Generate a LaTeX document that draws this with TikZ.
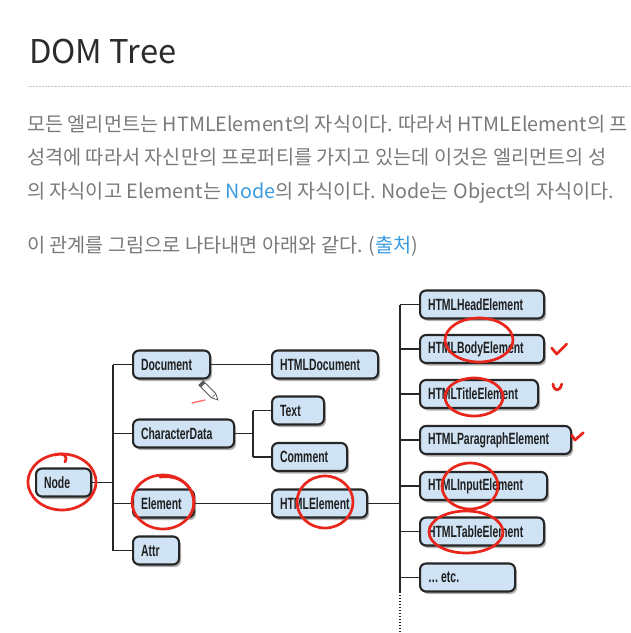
\documentclass[tikz,border=0pt]{standalone}
\usepackage{fontspec}
\setmainfont{Noto Sans CJK KR}
\newfontfamily\boxfont[FakeStretch=0.64]{Liberation Sans}
\usetikzlibrary{shadows}
\definecolor{txtgray}{HTML}{7A7A7A}
\definecolor{titlecol}{HTML}{2B2B2B}
\definecolor{linkblue}{HTML}{3A9BE0}
\definecolor{boxfill}{HTML}{CFE3F4}
\definecolor{boxline}{HTML}{262626}
\definecolor{annot}{HTML}{E8261C}
\begin{document}
\begin{tikzpicture}[x=1pt,y=-1pt,
  bx/.style={draw=boxline, line width=2.1pt, fill=boxfill, rounded corners=6pt,
    inner xsep=8pt, inner ysep=0pt, minimum height=28pt, text width=#1, align=left,
    anchor=west, font=\boxfont\bfseries\fontsize{16.3}{17}\selectfont, text=black!88,
    drop shadow={shadow xshift=2pt, shadow yshift=-2.5pt, opacity=0.3, fill=black}},
  wire/.style={draw=boxline, line width=1.7pt},
  para/.style={anchor=base west, inner sep=0pt, text=txtgray, font=\fontsize{19.7}{24}\selectfont},
  redmark/.style={draw=annot, line width=2.7pt, line cap=round, line join=round}]

\useasboundingbox (0,0) rectangle (631,633);
\fill[white] (0,0) rectangle (631,633);
\clip (0,0) rectangle (631,633);

% ---------- header text ----------
\node[anchor=base west, inner sep=0pt, text=titlecol, font=\fontsize{32.7}{36}\selectfont] (title) at (29,63) {DOM Tree};
\coordinate (ruleL) at (28,86);
\coordinate (ruleR) at (640,86);
\draw[gray!45, line width=0.9pt, dash pattern=on 0.9pt off 0.6pt] (ruleL) -- (ruleR);

\node[para] (p1) at (27,131) {모든 엘리먼트는 HTMLElement의 자식이다. 따라서 HTMLElement의 프};
\node[para] (p2) at (27,164) {성격에 따라서 자신만의 프로퍼티를 가지고 있는데 이것은 엘리먼트의 성};
\node[para] (p3) at (27,198) {의 자식이고 Element는 \textcolor{linkblue}{Node}의 자식이다. Node는 Object의 자식이다.};
\node[para] (p4) at (27,252) {이 관계를 그림으로 나타내면 아래와 같다. (\textcolor{linkblue}{출처})};

% ---------- boxes ----------
\node[bx=39pt] (node) at (35,482.5) {Node};
\node[bx=61pt] (doc) at (132,364.5) {Document};
\node[bx=85pt] (chardata) at (132,433.5) {CharacterData};
\node[bx=45pt] (element) at (132,503.5) {Element};
\node[bx=30pt] (attr) at (132,550.5) {Attr};
\node[bx=90pt] (htmldoc) at (271,364.5) {HTMLDocument};
\node[bx=36pt] (text) at (271,410.5) {Text};
\node[bx=59pt] (comment) at (271,457) {Comment};
\node[bx=79pt] (htmlel) at (271,503.5) {HTMLElement};
\node[bx=108pt] (head) at (419,304.5) {HTMLHeadElement};
\node[bx=108pt] (body) at (419,349) {HTMLBodyElement};
\node[bx=102pt] (titleel) at (419,394) {HTMLTitleElement};
\node[bx=135pt] (parael) at (419,440) {HTMLParagraphElement};
\node[bx=111pt] (input) at (419,486) {HTMLInputElement};
\node[bx=108pt] (table) at (419,531.5) {HTMLTableElement};
\node[bx=79pt] (etc) at (419,577.5) {\ldots\,etc.};

% ---------- connectors ----------
\coordinate (j1) at (113,0);
\coordinate (j2) at (253,0);
\coordinate (j3) at (400,0);
\coordinate (tailA) at (400,592);
\coordinate (tailB) at (400,640);

\draw[wire] (node.east) -- (node.east -| j1);
\draw[wire] (doc.west -| j1) -- (attr.west -| j1);
\foreach \n in {doc,chardata,element,attr} \draw[wire] (\n.west -| j1) -- (\n.west);

\draw[wire] (doc.east) -- (htmldoc.west);
\draw[wire] (chardata.east) -- (chardata.east -| j2);
\draw[wire] (text.west -| j2) -- (comment.west -| j2);
\foreach \n in {text,comment} \draw[wire] (\n.west -| j2) -- (\n.west);

\draw[wire] (element.east) -- (htmlel.west);
\draw[wire] (htmlel.east) -- (htmlel.east -| j3);
\draw[wire] (head.west -| j3) -- (tailA);
\foreach \n in {head,body,titleel,parael,input,table,etc} \draw[wire] (\n.west -| j3) -- (\n.west);
\draw[boxline, line width=1.7pt, dash pattern=on 1.4pt off 1.6pt] (tailA) -- (tailB);

% ---------- pencil cursor ----------
\begin{scope}[shift={(201,383)}, rotate=-45]
  \filldraw[fill=white, draw=gray!70!black, line width=0.8pt] (0,-3) -- (18,-3) -- (24,0) -- (18,3) -- (0,3) -- cycle;
  \fill[gray!70!black] (0,-3) rectangle (3,3);
  \draw[gray!70!black, line width=0.6pt] (18,-3) -- (18,3);
\end{scope}
\draw[red!45!pink, line width=1.3pt, line cap=round] (192,403) -- (205,400);

% ---------- red annotations ----------
\draw[redmark] (62,482) ellipse [x radius=34, y radius=28];
\draw[redmark] (55,455) .. controls (64,452) and (68,456) .. (65,462);
\draw[redmark] (163,502) ellipse [x radius=31, y radius=27];
\draw[redmark] (160,477) .. controls (185,474) and (197,492) .. (193,510);
\draw[redmark] (325,502) ellipse [x radius=28, y radius=26];
\draw[redmark] (479,340) ellipse [x radius=34, y radius=22];
\draw[redmark] (474,397) ellipse [x radius=29, y radius=19];
\draw[redmark] (470,486) ellipse [x radius=28, y radius=23];
\draw[redmark] (466,532) ellipse [x radius=37, y radius=21];
\draw[redmark] (551.7,348) -- (556.7,354) -- (566.7,344);
\draw[redmark] (553,384) .. controls (554,392) and (560,392) .. (561.7,384);
\draw[redmark] (571.7,435) -- (575,440) -- (583.3,432.7);
\end{tikzpicture}
\end{document}
